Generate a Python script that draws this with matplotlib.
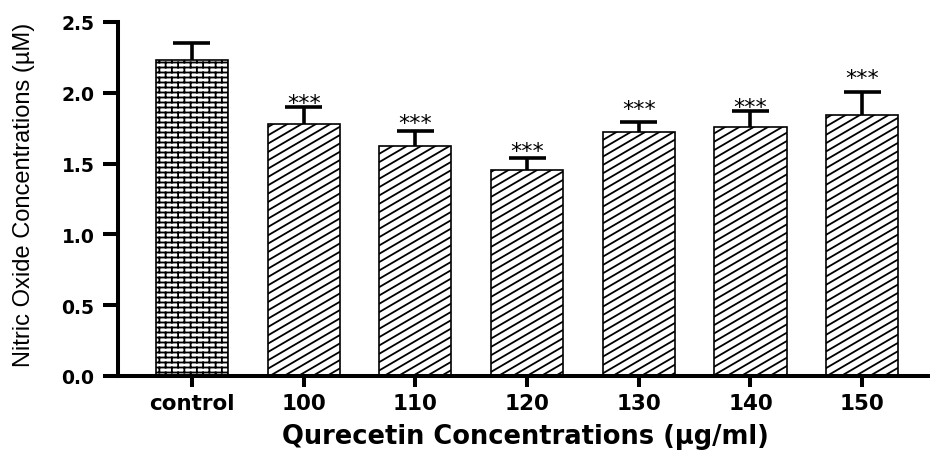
import warnings
warnings.filterwarnings("ignore")
import numpy as np
import matplotlib
matplotlib.use("Agg")
import matplotlib.pyplot as plt
import matplotlib.hatch as mhatch
from matplotlib.path import Path

# ---------------- data ----------------
categories = ["control", "100", "110", "120", "130", "140", "150"]
means = [2.23, 1.78, 1.626, 1.457, 1.72, 1.756, 1.843]
errors = [0.12, 0.12, 0.105, 0.085, 0.076, 0.112, 0.163]
significance = ["", "***", "***", "***", "***", "***", "***"]
sig_level = [None, 1.942, 1.801, 1.603, 1.900, 1.914, 2.114]  # bottom of star marks
y_ticks = [0.0, 0.5, 1.0, 1.5, 2.0, 2.5]
y_tick_labels = ["0.0", "0.5", "1.0", "1.5", "2.0", "2.5"]


# ---------------- custom hatches ----------------
class _SegHatch(mhatch.HatchPatternBase):
    def _finish(self, segs):
        self.segs = segs
        self.num_vertices = 2 * len(segs)

    def set_vertices_and_codes(self, vertices, codes):
        for n, (a, b) in enumerate(self.segs):
            vertices[2 * n] = a
            vertices[2 * n + 1] = b
            codes[2 * n] = Path.MOVETO
            codes[2 * n + 1] = Path.LINETO


class BrickHatch(_SegHatch):
    def __init__(self, hatch, density):
        segs = []
        if "b" in hatch:
            rows, cols = 20, 8
            for i in range(-1, rows):
                y = (i + 0.5) / rows
                y2 = (i + 1.5) / rows
                if i >= 0:
                    segs.append(((0.0, y), (1.0, y)))
                off = 0.25 if i % 2 == 0 else 0.75
                for j in range(cols):
                    x = (j + off) / cols
                    segs.append(((x, y), (x, y2)))
        self._finish(segs)


class ShallowDiagHatch(_SegHatch):
    def __init__(self, hatch, density):
        segs = []
        if "d" in hatch:
            M, a = 12, 7
            for k in range(-a - 1, M + 1):
                segs.append(((0.0, k / M), (1.0, (a + k) / M)))
        self._finish(segs)


mhatch._hatch_types.append(BrickHatch)
mhatch._hatch_types.append(ShallowDiagHatch)

plt.rcParams["hatch.linewidth"] = 1.3
plt.rcParams["font.family"] = ["DejaVu Sans"]

fig = plt.figure(figsize=(9.3, 4.56), dpi=100)
ax = fig.add_axes([118 / 930, 1 - 377 / 456, 812 / 930, 354 / 456])

x = np.arange(len(categories))
hatches = ["b"] + ["d"] * (len(categories) - 1)
bar_w = 0.645
bars = ax.bar(x, means, width=bar_w, color="white", edgecolor="black",
              linewidth=1.2, zorder=2)
for b, h in zip(bars, hatches):
    b.set_hatch(h)

# upper-only error bars
cap_half = 0.166
tops = [m + e for m, e in zip(means, errors)]
ax.vlines(x, means, tops, colors="black", linewidth=2.6, zorder=3)
ax.hlines(tops, x - cap_half, x + cap_half, colors="black", linewidth=2.6, zorder=3)

for i, (s, lvl) in enumerate(zip(significance, sig_level)):
    if s:
        ax.annotate(s, xy=(i, lvl), xytext=(0, -5.5), textcoords="offset points",
                    ha="center", va="baseline", fontsize=16,
                    family=["DejaVu Sans"])

ax.set_xlim(-0.662, 6.607)
ax.set_ylim(0, 2.5)
ax.set_yticks(y_ticks)
ax.set_yticklabels(y_tick_labels, fontsize=13.5, fontweight="bold")
ax.set_xticks(x)
ax.set_xticklabels(categories, fontsize=15.5, fontweight="bold")

for side in ["top", "right"]:
    ax.spines[side].set_visible(False)
for side in ["left", "bottom"]:
    ax.spines[side].set_linewidth(2.9)
ax.tick_params(axis="y", length=11, width=2.9, pad=6)
ax.tick_params(axis="x", length=8, width=2.9, pad=4)

ax.set_xlabel("Qurecetin Concentrations (\u00b5g/ml)", fontsize=18.5,
              fontweight="bold")
ax.xaxis.set_label_coords(0.502, -0.17)
ax.xaxis.label.set_va("center")

ax.set_ylabel("Nitric Oxide Concentrations (\u00b5M)", fontsize=17,
              family=["Liberation Sans", "DejaVu Sans"])
ax.yaxis.set_label_coords(-0.1158, 0.514)
ax.yaxis.label.set_va("center")

fig.savefig("out.png", dpi=100)
